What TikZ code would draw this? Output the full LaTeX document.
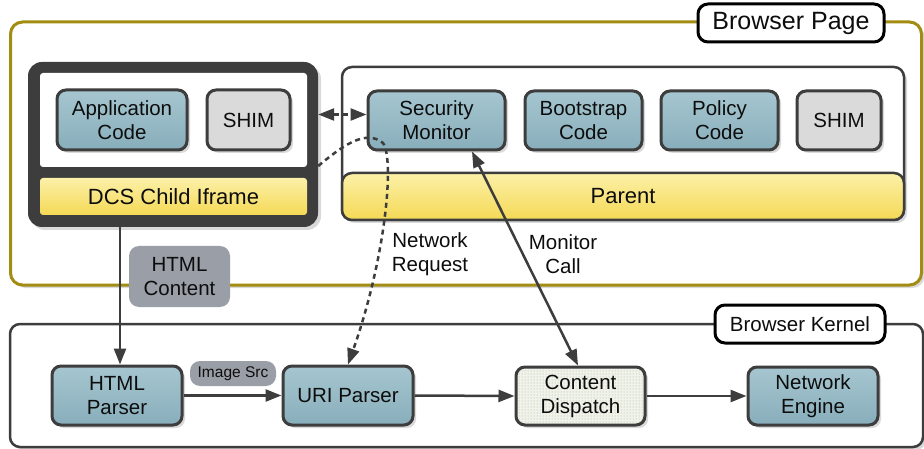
\documentclass[tikz,border=0pt]{standalone}
\usepackage{fontspec}
\setmainfont{Liberation Sans}
\usetikzlibrary{arrows.meta,shadows,patterns}
\definecolor{dark}{HTML}{3D3D3D}
\definecolor{olivec}{HTML}{A38C12}
\definecolor{tealA}{HTML}{A6C6D0}
\definecolor{tealB}{HTML}{88AEBB}
\definecolor{shimgray}{HTML}{DADADA}
\definecolor{lblgray}{HTML}{9A9EA6}
\definecolor{yelA}{HTML}{FCF0A8}
\definecolor{yelB}{HTML}{F4D955}
\definecolor{dotbg}{HTML}{F1F3EA}
\definecolor{dotfg}{HTML}{A6B096}
\tikzset{
  shad/.style={drop shadow={shadow xshift=3pt, shadow yshift=-3pt, fill=black!15, opacity=1}},
  txt/.style={font=\fontsize{20.5}{24}\selectfont, align=center, text=black!95},
  base/.style={txt, shad, rounded corners=9pt, draw=dark, line width=3pt, inner sep=0pt},
  tealbox/.style={base, top color=tealA, bottom color=tealB},
  shimbox/.style={base, fill=shimgray},
  dotbox/.style={base, preaction={fill=dotbg}, pattern=dots, pattern color=dotfg},
  yelbar/.style={txt, font=\fontsize{22}{26}\selectfont, top color=yelA, bottom color=yelB, inner sep=0pt},
  frame/.style={shad, fill=white, rounded corners=12pt, inner sep=0pt},
  tag/.style={txt, draw=black, line width=3pt, fill=white, rounded corners=10pt, inner sep=0pt},
  graylbl/.style={txt, fill=lblgray, rounded corners=10pt, inner sep=0pt},
  arr/.style={draw=dark, line width=2.5pt, -{Triangle[length=16pt,width=12pt]}},
  darr/.style={draw=dark, line width=2.5pt, {Triangle[length=16pt,width=12pt]}-{Triangle[length=16pt,width=12pt]}},
  dsh/.style={dash pattern=on 5pt off 4pt},
}
\begin{document}
\begin{tikzpicture}[x=1pt,y=-1pt]
\useasboundingbox (0,0) rectangle (924,449);
% Browser Page frame
\node[frame, draw=olivec, line width=3pt, minimum width=911pt, minimum height=263pt] (page) at (466,153.5) {};
\node[tag, font=\fontsize{25}{28}\selectfont, minimum width=186pt, minimum height=38pt] (pagelbl) at (791,23) {Browser Page};
% DCS child iframe
\node[shad, fill=dark, rounded corners=14pt, minimum width=290pt, minimum height=165pt, inner sep=0pt] (dcs) at (173,144.5) {};
\node[fill=white, rounded corners=3pt, minimum width=267pt, minimum height=94pt, inner sep=0pt] (dcsin) at (173.5,120) {};
\node[yelbar, rounded corners=3pt, minimum width=267pt, minimum height=37pt] (dcslbl) at (173.5,196.5) {DCS Child Iframe};
\node[tealbox, minimum width=130pt, minimum height=60pt] (app) at (122,120) {Application\\Code};
\node[shimbox, minimum width=83pt, minimum height=60pt] (shim1) at (248.5,120) {SHIM};
% Parent
\node[frame, draw=dark, line width=2.5pt, rounded corners=10pt, minimum width=562pt, minimum height=153pt] (par) at (623,143.5) {};
\node[yelbar, draw=dark, line width=2.5pt, rounded corners=10pt, minimum width=562pt, minimum height=47pt] (parlbl) at (623,196.5) {Parent};
\node[tealbox, minimum width=137pt, minimum height=59pt] (sec) at (436.5,120.5) {Security\\Monitor};
\node[tealbox, minimum width=117pt, minimum height=59pt] (boot) at (583.5,120.5) {Bootstrap\\Code};
\node[tealbox, minimum width=117pt, minimum height=59pt] (pol) at (719.5,120.5) {Policy\\Code};
\node[shimbox, minimum width=84pt, minimum height=59pt] (shim2) at (839,120.5) {SHIM};
% Browser Kernel
\node[frame, draw=dark, line width=2.5pt, rounded corners=10pt, minimum width=913pt, minimum height=123pt] (kern) at (466.5,385.5) {};
\node[tag, minimum width=170pt, minimum height=38pt] (kernlbl) at (800,324) {Browser Kernel};
\node[tealbox, minimum width=130pt, minimum height=59pt] (hp) at (117,395.5) {HTML\\Parser};
\node[tealbox, minimum width=130pt, minimum height=59pt] (uri) at (348,395.5) {URI Parser};
\node[dotbox, minimum width=129pt, minimum height=58pt] (cd) at (580.5,396) {Content\\Dispatch};
\node[tealbox, minimum width=130pt, minimum height=58pt] (ne) at (813,396) {Network\\Engine};
% labels
\node[graylbl, minimum width=101pt, minimum height=61pt] (hc) at (179.5,276.5) {HTML\\Content};
\node[graylbl, font=\fontsize{15.5}{18}\selectfont, minimum width=86pt, minimum height=25pt] (isrc) at (233,373.5) {Image Src};
\node[txt] (nrl) at (430,254) {Network\\Request};
\node[txt] (mcl) at (563,254) {Monitor\\Call};
% connectors
\coordinate (ax) at (120,0);
\draw[arr] (dcs.south -| ax) -- (hp.north -| ax);
\draw[arr] (hp.east) -- (uri.west);
\draw[arr] (uri.east) -- (cd.west);
\draw[arr] (cd.east) -- (ne.west);
\draw[darr] ([xshift=-2.5pt]cd.north) -- ([xshift=35.5pt]sec.south);
\draw[darr, dsh] ([yshift=6pt]dcs.east |- sec.west) -- ([yshift=6pt]sec.west);
\draw[arr, dsh] ([yshift=-21.5pt]dcs.east) .. controls (340,148) and (365,128) .. (383,143) .. controls (395,160) and (385,260) .. (uri.north);
\end{tikzpicture}
\end{document}
